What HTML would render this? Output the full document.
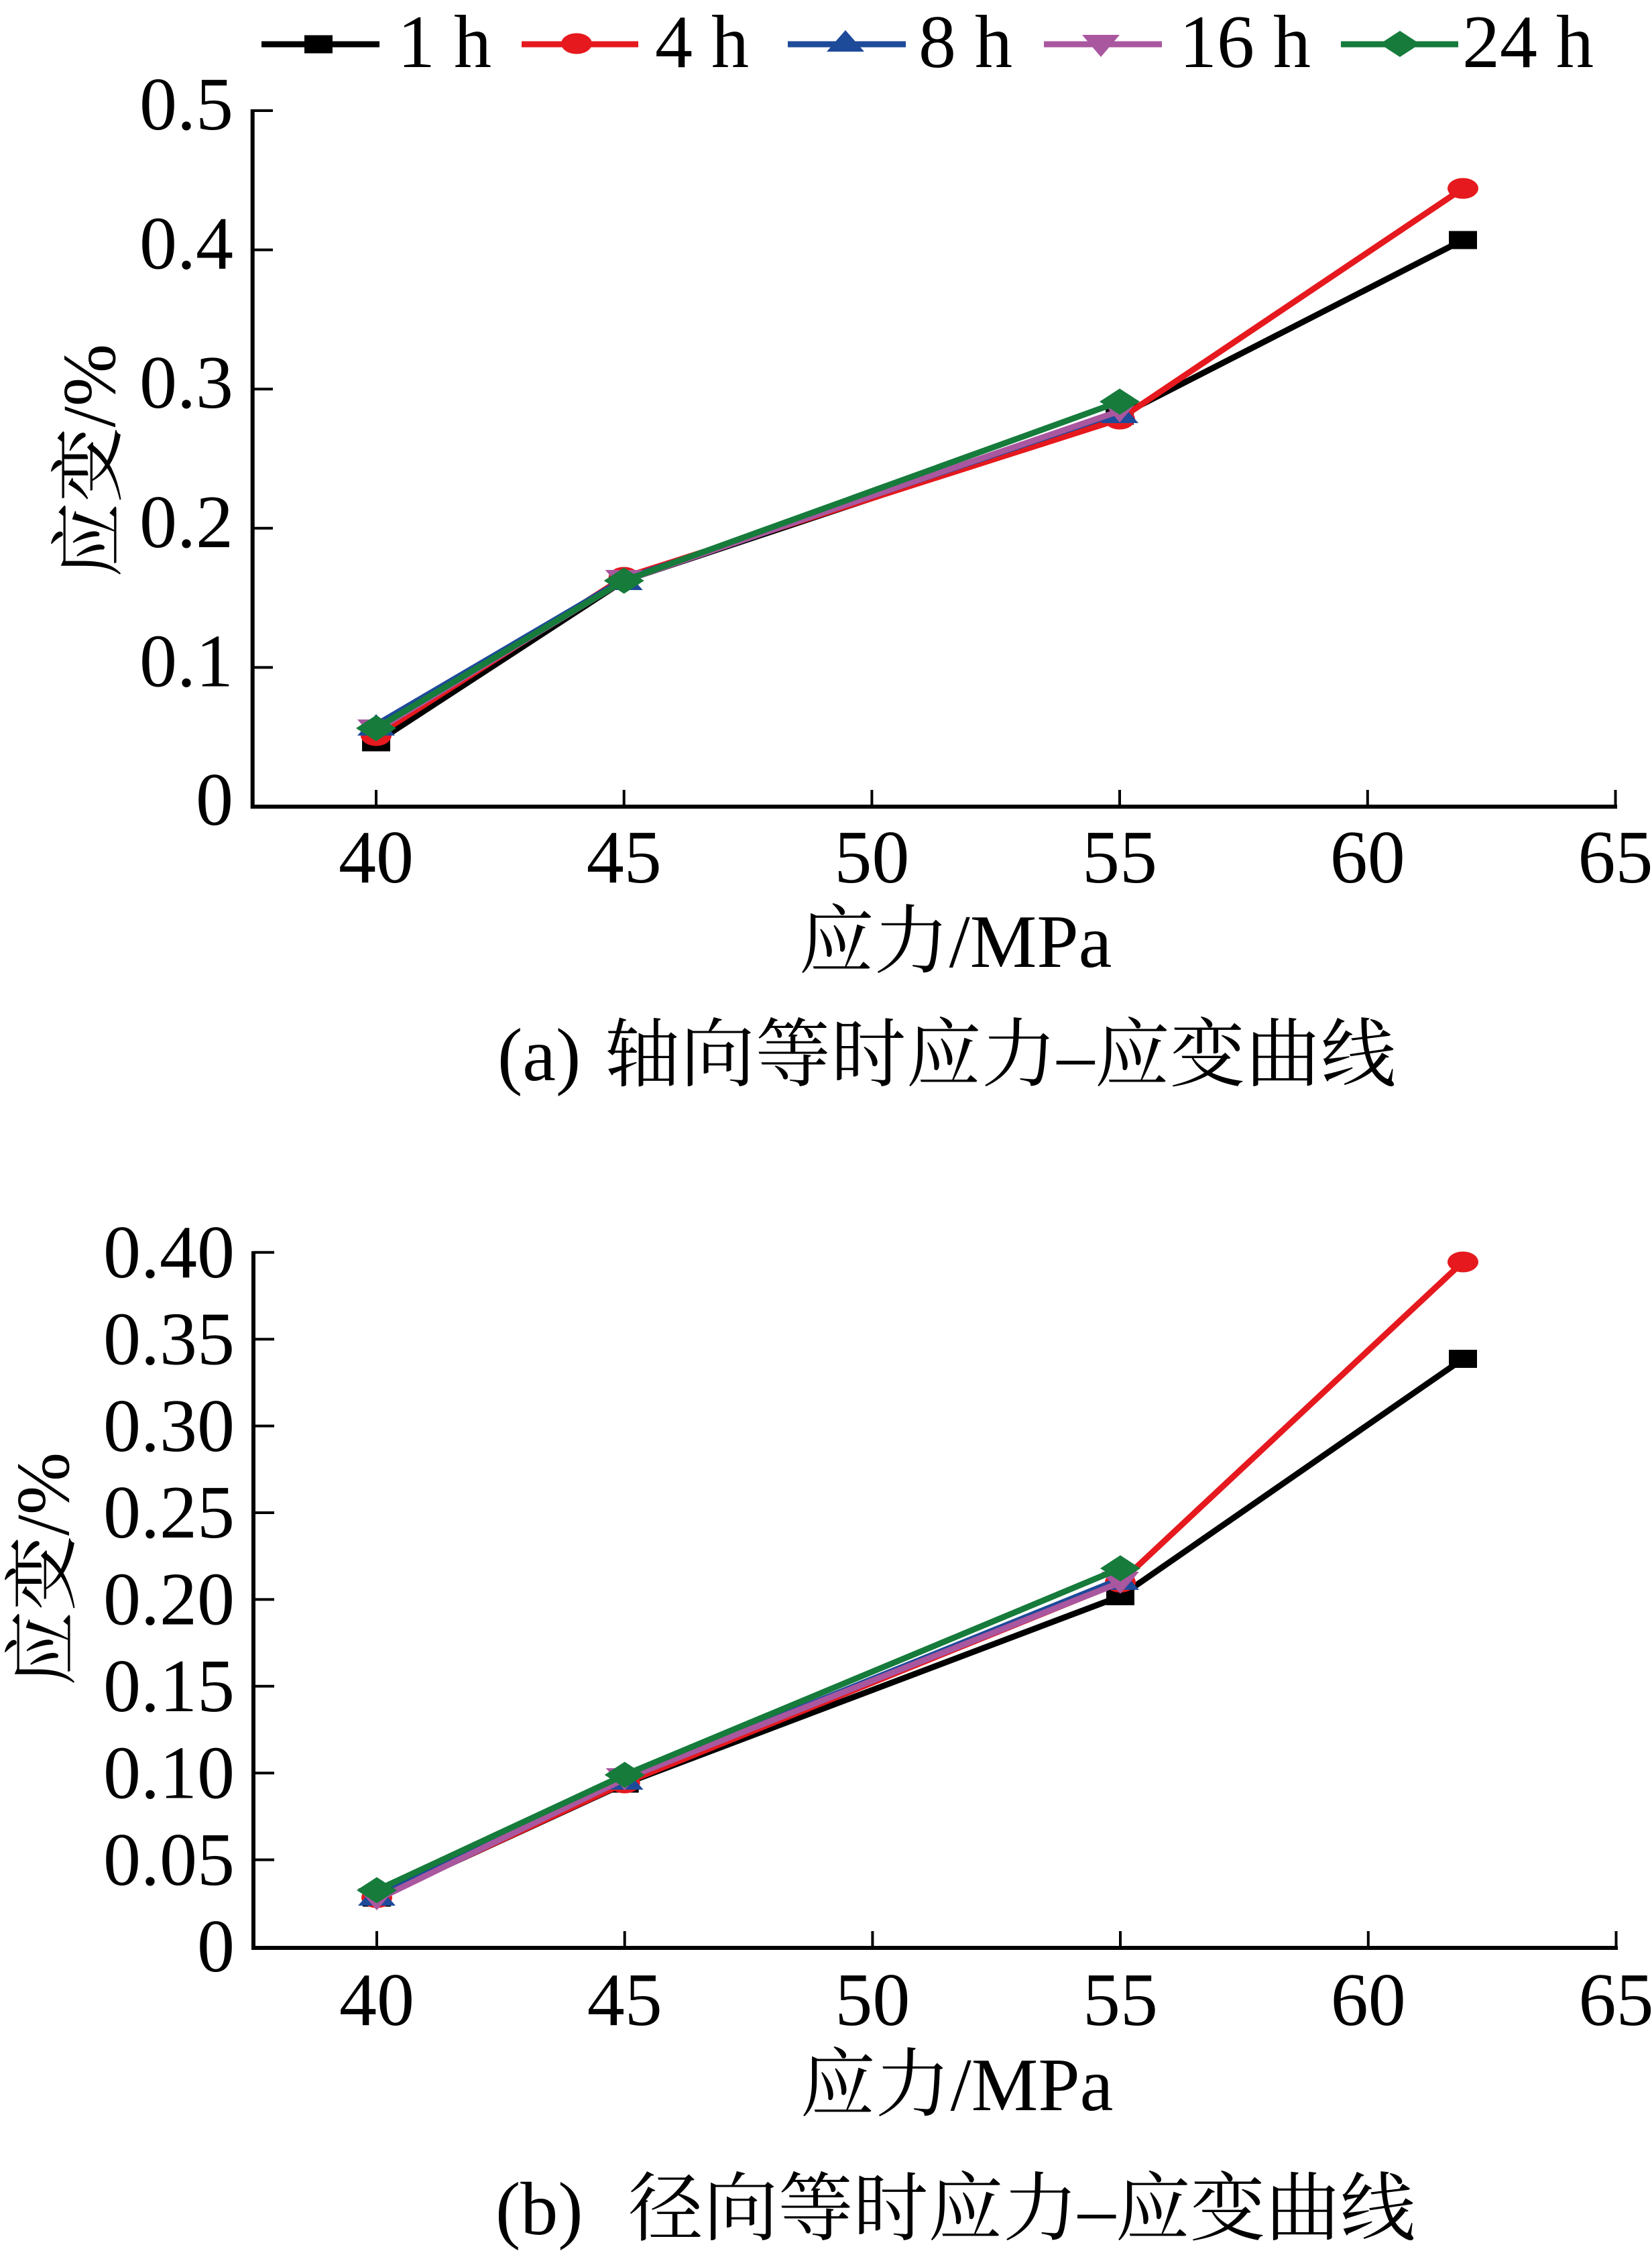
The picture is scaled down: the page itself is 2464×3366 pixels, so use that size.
<!DOCTYPE html>
<html><head><meta charset="utf-8"><style>
html,body{margin:0;padding:0;background:#fff;}
svg{display:block;}
.num{font-family:"Liberation Serif","Noto Serif CJK SC",serif;font-size:112px;fill:#000;}
.cjk{font-family:"Liberation Serif","Noto Serif CJK SC",serif;font-size:112px;fill:#000;}
</style></head><body>
<svg width="2464" height="3366" viewBox="0 0 2464 3366" xmlns="http://www.w3.org/2000/svg">
<rect width="2464" height="3366" fill="#fff"/>

<!-- Legend -->
<g>
  <line x1="390" y1="66" x2="566" y2="66" stroke="#000" stroke-width="9"/>
  <rect x="454" y="52.5" width="42" height="27" fill="#000"/>
  <text class="num" x="593" y="100">1 h</text>

  <line x1="778" y1="66" x2="952" y2="66" stroke="#e5191e" stroke-width="9"/>
  <ellipse cx="860" cy="65" rx="23" ry="15.5" fill="#e5191e"/>
  <text class="num" x="977" y="100">4 h</text>

  <line x1="1175" y1="66" x2="1351" y2="66" stroke="#1e4a9a" stroke-width="9"/>
  <polygon points="1261,45 1289,77 1233,77" fill="#1e4a9a"/>
  <text class="num" x="1370" y="100">8 h</text>

  <line x1="1557" y1="66" x2="1733" y2="66" stroke="#a9579f" stroke-width="9"/>
  <polygon points="1614,52 1670,52 1642,85" fill="#a9579f"/>
  <text class="num" x="1759" y="100">16 h</text>

  <line x1="2000" y1="66" x2="2175" y2="66" stroke="#167b3b" stroke-width="9"/>
  <polygon points="2088,46 2118,65.5 2088,85 2058,65.5" fill="#167b3b"/>
  <text class="num" x="2181" y="100">24 h</text>
</g>

<!-- ============ Chart (a) ============ -->
<g stroke="#000" stroke-width="4" fill="none">
  <line x1="376" y1="995.4" x2="407" y2="995.4"/>
  <line x1="376" y1="787.8" x2="407" y2="787.8"/>
  <line x1="376" y1="580.2" x2="407" y2="580.2"/>
  <line x1="376" y1="372.6" x2="407" y2="372.6"/>
  <line x1="376" y1="165" x2="407" y2="165"/>
  <line x1="561" y1="1203" x2="561" y2="1178"/>
  <line x1="930.7" y1="1203" x2="930.7" y2="1178"/>
  <line x1="1300.4" y1="1203" x2="1300.4" y2="1178"/>
  <line x1="1670" y1="1203" x2="1670" y2="1178"/>
  <line x1="2039.8" y1="1203" x2="2039.8" y2="1178"/>
  <line x1="2409.5" y1="1203" x2="2409.5" y2="1178"/>
</g>
<line x1="376.7" y1="163" x2="376.7" y2="1206" stroke="#000" stroke-width="6"/>
<line x1="374" y1="1203" x2="2412" y2="1203" stroke="#000" stroke-width="6"/>

<g class="num" text-anchor="end">
  <text x="348" y="193">0.5</text>
  <text x="348" y="400.6">0.4</text>
  <text x="348" y="608.2">0.3</text>
  <text x="348" y="815.8">0.2</text>
  <text x="348" y="1023.4">0.1</text>
  <text x="348" y="1230">0</text>
</g>
<g class="num" text-anchor="middle">
  <text x="561" y="1316">40</text>
  <text x="930.7" y="1316">45</text>
  <text x="1300.4" y="1316">50</text>
  <text x="1670" y="1316">55</text>
  <text x="2039.8" y="1316">60</text>
  <text x="2409.5" y="1316">65</text>
</g>
<text class="cjk" text-anchor="middle" transform="translate(171,687) rotate(-90)">应变/%</text>
<text class="cjk" text-anchor="middle" x="1425" y="1442">应力/MPa</text>
<text class="cjk" x="742" y="1611">(a)</text>
<text class="cjk" x="902" y="1611" textLength="1180" lengthAdjust="spacing">轴向等时应力–应变曲线</text>

<!-- series (a) -->
<g>
  <polyline points="561,1107 930.7,866 1670,620 2182,358" fill="none" stroke="#000" stroke-width="9" stroke-linejoin="round"/>
  <rect x="540" y="1093.5" width="42" height="27" fill="#000"/>
  <rect x="909.7" y="852.5" width="42" height="27" fill="#000"/>
  <rect x="1649" y="606.5" width="42" height="27" fill="#000"/>
  <rect x="2161" y="344.5" width="42" height="27" fill="#000"/>

  <polyline points="561,1097 930.7,861 1670,625 2182,281" fill="none" stroke="#e5191e" stroke-width="9" stroke-linejoin="round"/>
  <ellipse cx="561" cy="1097" rx="23" ry="15.5" fill="#e5191e"/>
  <ellipse cx="930.7" cy="861" rx="23" ry="15.5" fill="#e5191e"/>
  <ellipse cx="1670" cy="625" rx="23" ry="15.5" fill="#e5191e"/>
  <ellipse cx="2182" cy="281" rx="23" ry="15.5" fill="#e5191e"/>

  <polyline points="561,1081 930.7,864 1670,615" fill="none" stroke="#1e4a9a" stroke-width="9" stroke-linejoin="round"/>
  <polygon points="561,1065 589,1097 533,1097" fill="#1e4a9a"/>
  <polygon points="930.7,848 958.7,880 902.7,880" fill="#1e4a9a"/>
  <polygon points="1670,599 1698,631 1642,631" fill="#1e4a9a"/>

  <polyline points="561,1089 930.7,866 1670,613" fill="none" stroke="#a9579f" stroke-width="9" stroke-linejoin="round"/>
  <polygon points="533,1073 589,1073 561,1106" fill="#a9579f"/>
  <polygon points="902.7,850 958.7,850 930.7,883" fill="#a9579f"/>
  <polygon points="1642,597 1698,597 1670,630" fill="#a9579f"/>

  <polyline points="561,1086 930.7,866 1670,599" fill="none" stroke="#167b3b" stroke-width="9" stroke-linejoin="round"/>
  <polygon points="561,1066.5 591,1086 561,1105.5 531,1086" fill="#167b3b"/>
  <polygon points="930.7,846.5 960.7,866 930.7,885.5 900.7,866" fill="#167b3b"/>
  <polygon points="1670,579.5 1700,599 1670,618.5 1640,599" fill="#167b3b"/>
</g>

<!-- ============ Chart (b) ============ -->
<g stroke="#000" stroke-width="4" fill="none">
  <line x1="378" y1="2773.6" x2="409" y2="2773.6"/>
  <line x1="378" y1="2644.2" x2="409" y2="2644.2"/>
  <line x1="378" y1="2514.8" x2="409" y2="2514.8"/>
  <line x1="378" y1="2385.4" x2="409" y2="2385.4"/>
  <line x1="378" y1="2256" x2="409" y2="2256"/>
  <line x1="378" y1="2126.6" x2="409" y2="2126.6"/>
  <line x1="378" y1="1997.2" x2="409" y2="1997.2"/>
  <line x1="378" y1="1867.8" x2="409" y2="1867.8"/>
  <line x1="562" y1="2905" x2="562" y2="2880"/>
  <line x1="931.7" y1="2905" x2="931.7" y2="2880"/>
  <line x1="1301.4" y1="2905" x2="1301.4" y2="2880"/>
  <line x1="1671" y1="2905" x2="1671" y2="2880"/>
  <line x1="2040.8" y1="2905" x2="2040.8" y2="2880"/>
  <line x1="2410.5" y1="2905" x2="2410.5" y2="2880"/>
</g>
<line x1="378" y1="1866" x2="378" y2="2908" stroke="#000" stroke-width="6"/>
<line x1="375" y1="2905" x2="2413" y2="2905" stroke="#000" stroke-width="6"/>

<g class="num" text-anchor="end">
  <text x="350" y="1905">0.40</text>
  <text x="350" y="2034.4">0.35</text>
  <text x="350" y="2163.8">0.30</text>
  <text x="350" y="2293.2">0.25</text>
  <text x="350" y="2422.6">0.20</text>
  <text x="350" y="2552">0.15</text>
  <text x="350" y="2681.4">0.10</text>
  <text x="350" y="2810.8">0.05</text>
  <text x="350" y="2940">0</text>
</g>
<g class="num" text-anchor="middle">
  <text x="562" y="3020">40</text>
  <text x="931.7" y="3020">45</text>
  <text x="1301.4" y="3020">50</text>
  <text x="1671" y="3020">55</text>
  <text x="2040.8" y="3020">60</text>
  <text x="2410.5" y="3020">65</text>
</g>
<text class="cjk" text-anchor="middle" transform="translate(102,2340) rotate(-90)">应变/%</text>
<text class="cjk" text-anchor="middle" x="1427" y="3147">应力/MPa</text>
<text class="cjk" x="739" y="3332">(b)</text>
<text class="cjk" x="937" y="3332" textLength="1174" lengthAdjust="spacing">径向等时应力–应变曲线</text>

<!-- series (b) -->
<g>
  <polyline points="562,2830 931.7,2660 1671,2380.6 2182,2026.7" fill="none" stroke="#000" stroke-width="9" stroke-linejoin="round"/>
  <rect x="541" y="2816.5" width="42" height="27" fill="#000"/>
  <rect x="910.7" y="2646.5" width="42" height="27" fill="#000"/>
  <rect x="1650" y="2367" width="42" height="27" fill="#000"/>
  <rect x="2161" y="2013" width="42" height="27" fill="#000"/>

  <polyline points="562,2830 931.7,2659 1671,2359.6 2182,1882" fill="none" stroke="#e5191e" stroke-width="9" stroke-linejoin="round"/>
  <ellipse cx="562" cy="2830" rx="23" ry="15.5" fill="#e5191e"/>
  <ellipse cx="931.7" cy="2659" rx="23" ry="15.5" fill="#e5191e"/>
  <ellipse cx="1671" cy="2359.6" rx="23" ry="15.5" fill="#e5191e"/>
  <ellipse cx="2182" cy="1882" rx="23" ry="15.5" fill="#e5191e"/>

  <polyline points="562,2826 931.7,2653 1671,2355" fill="none" stroke="#1e4a9a" stroke-width="9" stroke-linejoin="round"/>
  <polygon points="562,2810 590,2842 534,2842" fill="#1e4a9a"/>
  <polygon points="931.7,2637 959.7,2669 903.7,2669" fill="#1e4a9a"/>
  <polygon points="1671,2339 1699,2371 1643,2371" fill="#1e4a9a"/>

  <polyline points="562,2833 931.7,2653 1671,2360" fill="none" stroke="#a9579f" stroke-width="9" stroke-linejoin="round"/>
  <polygon points="534,2816 590,2816 562,2849" fill="#a9579f"/>
  <polygon points="903.7,2637 959.7,2637 931.7,2670" fill="#a9579f"/>
  <polygon points="1643,2344 1699,2344 1671,2377" fill="#a9579f"/>

  <polyline points="562,2819 931.7,2647 1671,2339" fill="none" stroke="#167b3b" stroke-width="9" stroke-linejoin="round"/>
  <polygon points="562,2799.5 592,2819 562,2838.5 532,2819" fill="#167b3b"/>
  <polygon points="931.7,2627.5 961.7,2647 931.7,2666.5 901.7,2647" fill="#167b3b"/>
  <polygon points="1671,2319.5 1701,2339 1671,2358.5 1641,2339" fill="#167b3b"/>
</g>
</svg>
</body></html>
